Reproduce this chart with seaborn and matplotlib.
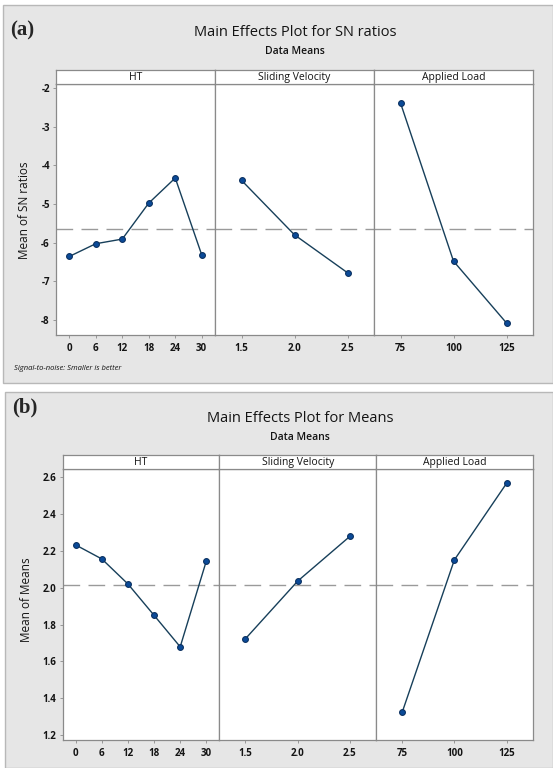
import numpy as np
import pandas as pd
import matplotlib
matplotlib.use("Agg")
import matplotlib.pyplot as plt
from matplotlib.patches import Rectangle
import seaborn as sns

# ---------------- data ----------------
factors = ["HT", "Sliding Velocity", "Applied Load"]
ht_levels = ["0", "6", "12", "18", "24", "30"]
sv_levels = ["1.5", "2.0", "2.5"]
al_levels = ["75", "100", "125"]

sn_ht = [-6.36, -6.03, -5.91, -4.98, -4.33, -6.32]
sn_sv = [-4.39, -5.80, -6.78]
sn_al = [-2.39, -6.48, -8.08]

mean_ht = [2.232, 2.156, 2.020, 1.850, 1.679, 2.145]
mean_sv = [1.723, 2.036, 2.279]
mean_al = [1.323, 2.151, 2.567]

sn_yticks = [-2, -3, -4, -5, -6, -7, -8]
mean_yticks = [1.2, 1.4, 1.6, 1.8, 2.0, 2.2, 2.4, 2.6]

# ---------------- style ----------------
sns.set_theme(style="white")
plt.rcParams["font.family"] = ["Open Sans", "DejaVu Sans"]
plt.rcParams["axes.unicode_minus"] = False

W, H = 553, 768
fig = plt.figure(figsize=(W / 100, H / 100), dpi=100)
fig.patch.set_facecolor("white")

def fx(px):
    return px / W

def fy(py):
    return 1 - py / H

BG = "#e6e6e6"
EDGE = "#b8b8b8"
LINE = "#173f5a"
MARK = "#0b4a98"
SPINE = "#8a8a8a"
TXT = "#141414"

# background panels
fig.patches.append(Rectangle((fx(3), fy(383)), fx(550), (383 - 5) / H,
                             transform=fig.transFigure, facecolor=BG,
                             edgecolor=EDGE, linewidth=1.0, zorder=-5))
fig.patches.append(Rectangle((fx(5), fy(768)), fx(548), (768 - 392) / H,
                             transform=fig.transFigure, facecolor=BG,
                             edgecolor=EDGE, linewidth=1.0, zorder=-5))


def draw_block(x0, x1, y_strip, y_top, y_bot, levels_list, values_list,
               ylim, yticks, yfmt):
    pw = (x1 - x0) / 3
    grand = np.mean(values_list[0])
    for i, (lev, vals) in enumerate(zip(levels_list, values_list)):
        left = x0 + i * pw
        ax = fig.add_axes([fx(left), fy(y_bot), pw / W, (y_bot - y_top) / H],
                          zorder=2)
        df = pd.DataFrame({"level": lev, "value": vals})
        sns.pointplot(data=df, x="level", y="value", ax=ax, color=LINE,
                      errorbar=None, markers="o", linestyles="-",
                      markersize=4.2, linewidth=1.0,
                      markeredgecolor="#0a2f5e", markerfacecolor=MARK)
        ax.axhline(grand, color="#9a9a9a", linestyle=(0, (12, 6)),
                   linewidth=1.0, zorder=0)
        ax.set_xlim(-0.5, len(lev) - 0.5)
        ax.set_ylim(*ylim)
        ax.set_xlabel("")
        ax.set_ylabel("")
        ax.set_facecolor("white")
        for s in ax.spines.values():
            s.set_color(SPINE)
            s.set_linewidth(0.9)
        ax.set_xticks(range(len(lev)))
        ax.set_xticklabels(lev, fontweight="bold")
        ax.tick_params(axis="x", bottom=True, length=2.5, width=0.6,
                       color=SPINE, labelsize=7, pad=3, labelcolor=TXT)
        ax.set_yticks(yticks)
        if i == 0:
            ax.set_yticklabels([yfmt.format(t) for t in yticks],
                               fontweight="bold")
            ax.tick_params(axis="y", length=2.5, width=0.6, color=SPINE,
                           labelsize=7, pad=2, labelcolor=TXT,
                           left=True)
        else:
            ax.tick_params(axis="y", left=False, labelleft=False)
        # strip
        sax = fig.add_axes([fx(left), fy(y_top), pw / W, (y_top - y_strip) / H],
                           zorder=2)
        sax.set_facecolor("white")
        sax.set_xticks([])
        sax.set_yticks([])
        for s in sax.spines.values():
            s.set_color(SPINE)
            s.set_linewidth(0.9)
        sax.text(0.5, 0.45, factors[i], ha="center", va="center",
                 fontsize=7.5, color=TXT, transform=sax.transAxes)


# ---------------- panel (a) ----------------
draw_block(56, 533, 70, 84, 335,
           [ht_levels, sv_levels, al_levels], [sn_ht, sn_sv, sn_al],
           (-8.39, -1.9), sn_yticks, "{:d}")
fig.text(fx(10), fy(30), "(a)", fontsize=15, fontweight="bold",
         family=["Liberation Serif", "DejaVu Serif"], va="center", ha="left")
fig.text(fx(295), fy(32), "Main Effects Plot for SN ratios", fontsize=10.5,
         fontweight="medium", ha="center", va="center", color=TXT)
fig.text(fx(295), fy(52), "Data Means", fontsize=7.5, fontweight="semibold",
         ha="center", va="center", color=TXT)
fig.text(fx(25), fy(210), "Mean of SN ratios", rotation=90, fontsize=8.5,
         fontweight="medium", ha="center", va="center", color=TXT)
fig.text(fx(14), fy(369), "Signal-to-noise: Smaller is better", fontsize=5.5,
         style="italic", ha="left", va="center", color=TXT)

# ---------------- panel (b) ----------------
draw_block(62.7, 532.7, 455, 469.3, 740,
           [ht_levels, sv_levels, al_levels], [mean_ht, mean_sv, mean_al],
           (1.173, 2.643), mean_yticks, "{:.1f}")
fig.text(fx(12), fy(407), "(b)", fontsize=15, fontweight="bold",
         family=["Liberation Serif", "DejaVu Serif"], va="center", ha="left")
fig.text(fx(300), fy(418), "Main Effects Plot for Means", fontsize=10.5,
         fontweight="medium", ha="center", va="center", color=TXT)
fig.text(fx(300), fy(437), "Data Means", fontsize=7.5, fontweight="semibold",
         ha="center", va="center", color=TXT)
fig.text(fx(27), fy(600), "Mean of Means", rotation=90, fontsize=8.5,
         fontweight="medium", ha="center", va="center", color=TXT)

fig.savefig("out.png", dpi=100, facecolor=fig.get_facecolor())
